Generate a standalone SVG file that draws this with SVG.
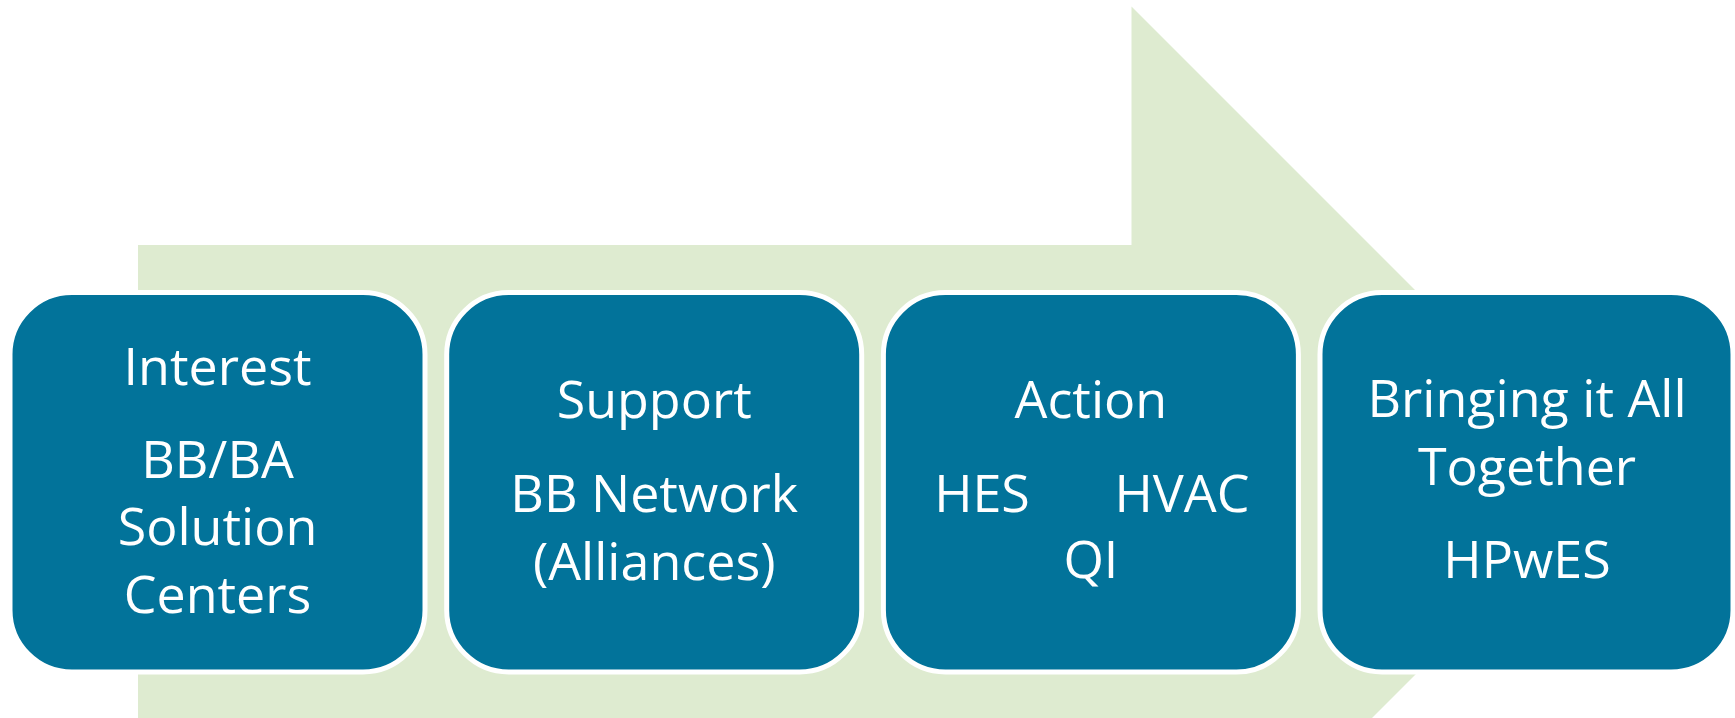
<svg xmlns="http://www.w3.org/2000/svg" width="1735" height="718" viewBox="0 0 1735 718">
  <style>
    .box { fill: #02739a; stroke: #ffffff; stroke-width: 5; }
    .lbl { font-family: "Open Sans", "Liberation Sans", sans-serif; font-size: 52px; fill: #ffffff; text-anchor: middle; }
  </style>
  <rect x="0" y="0" width="1735" height="718" fill="#ffffff"/>
  <g id="arrow">
    <polygon points="138,245 1131.5,245 1131.5,6.5 1607.5,482.5 1131.5,958.5 1131.5,720 138,720" fill="#deebd0"/>
  </g>
  <g id="connectors"></g>
  <g id="node-interest">
    <rect class="box" x="10" y="292.5" width="415" height="379.5" rx="62" ry="62"/>
    <text class="lbl" x="217.5" y="385">Interest</text>
    <text class="lbl" x="217.5" y="478">BB/BA</text>
    <text class="lbl" x="217.5" y="545">Solution</text>
    <text class="lbl" x="217.5" y="613">Centers</text>
  </g>
  <g id="node-support">
    <rect class="box" x="446.7" y="292.5" width="415" height="379.5" rx="62" ry="62"/>
    <text class="lbl" x="654.2" y="418">Support</text>
    <text class="lbl" x="654.2" y="512">BB Network</text>
    <text class="lbl" x="654.2" y="580">(Alliances)</text>
  </g>
  <g id="node-action">
    <rect class="box" x="883.4" y="292.5" width="415" height="379.5" rx="62" ry="62"/>
    <text class="lbl" x="1090.9" y="418">Action</text>
    <text class="lbl" x="982" y="512">HES</text>
    <text class="lbl" x="1182" y="512">HVAC</text>
    <text class="lbl" x="1090.9" y="578">QI</text>
  </g>
  <g id="node-together">
    <rect class="box" x="1320" y="292.5" width="413" height="379.5" rx="62" ry="62"/>
    <text class="lbl" x="1527" y="417">Bringing it All</text>
    <text class="lbl" x="1527" y="485">Together</text>
    <text class="lbl" x="1527" y="578">HPwES</text>
  </g>
</svg>
